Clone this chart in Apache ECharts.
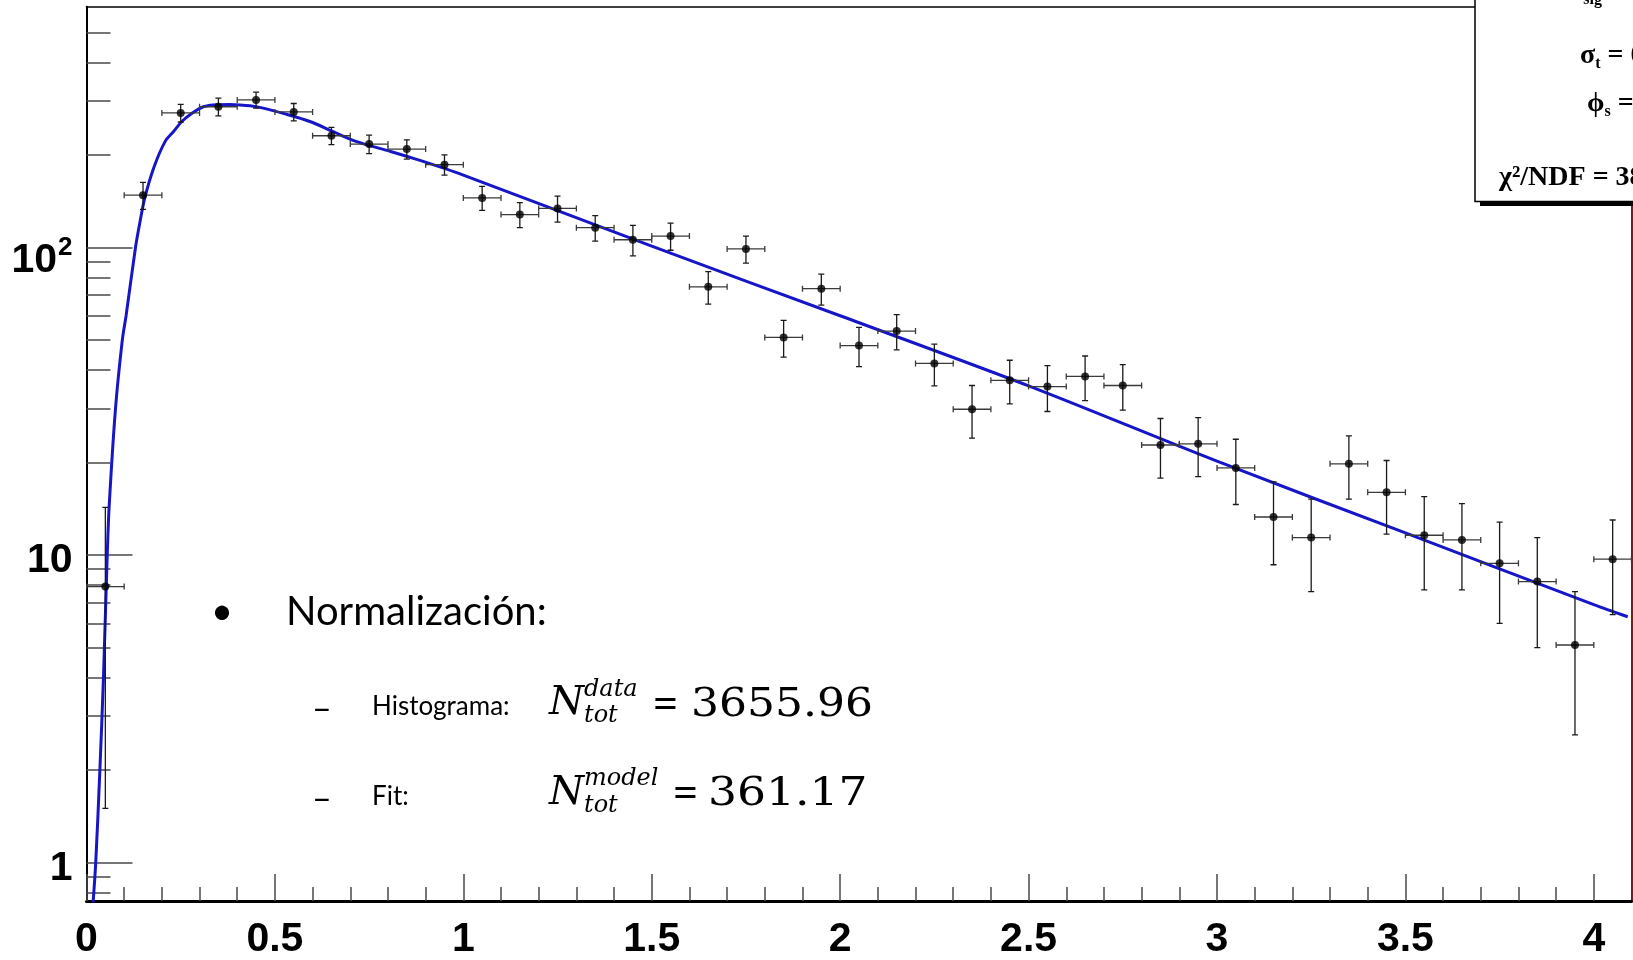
<!DOCTYPE html>
<html><head><meta charset="utf-8">
<script src="https://cdn.jsdelivr.net/npm/echarts@6/dist/echarts.min.js"></script>
<style>html,body{margin:0;padding:0;background:#fff;overflow:hidden}#c{width:1633px;height:960px}</style>
</head><body><div id="c"></div>
<script>
// ---- data ----
const binCenters = [0.05,0.15,0.25,0.35,0.45,0.55,0.65,0.75,0.85,0.95,1.05,1.15,1.25,1.35,1.45,1.55,1.65,1.75,1.85,1.95,2.05,2.15,2.25,2.35,2.45,2.55,2.65,2.75,2.85,2.95,3.05,3.15,3.25,3.35,3.45,3.55,3.65,3.75,3.85,3.95,4.05];
const counts = [7.9,148,274,287,302,276,231,217,209,186,145,128,134,116,106,109,74.5,99,51,73.5,48,53.5,42,29.8,37,35.3,38.1,35.6,22.8,23,19.2,13.3,11.4,19.8,16,11.6,11.2,9.4,8.2,5.1,9.7];
const countErrors = [6.4,15,18,19,18,18,15,15,15,14,13,12,13,11,12,11,9,10,7,8.5,7,7,6.5,5.8,6,6,6.3,6,5,5,4.6,4,3.8,4.6,4.3,3.9,3.5,3.4,3.2,2.5,3.3];
const binHalfWidth = 0.05;
const fitX = [0.016,0.0245,0.0355,0.045,0.055,0.060,0.077,0.095,0.105,0.130,0.141,0.155,0.179,0.2085,0.2305,0.253,0.279,0.31,0.346,0.38,0.407,0.434,0.469,0.522,0.593,0.655,0.717,0.797,0.885,1.0,1.5,2.0,2.5,3.0,3.5,4.0,4.09];
const fitY = [0.7,1.0,2.0,4.0,10,14.3,30,50,60,100,119.5,145.5,182.5,221,238,257,273,287,291.5,292,291,289,284,273,257,238,221,207,192,172,101,60,35.5,20.2,11.8,6.9,6.3];
const xMajorTicks = [0,0.5,1,1.5,2,2.5,3,3.5,4];
const xTickLabels = ['0','0.5','1','1.5','2','2.5','3','3.5','4'];
const xMinorTicks = [0.1,0.2,0.3,0.4,0.6,0.7,0.8,0.9,1.1,1.2,1.3,1.4,1.6,1.7,1.8,1.9,2.1,2.2,2.3,2.4,2.6,2.7,2.8,2.9,3.1,3.2,3.3,3.4,3.6,3.7,3.8,3.9];
const yMajorTicks = [1,10,100];
const yTickLabels = ['{b|1}','{b|10}','{c|10}{s|2}'];
const yMinorTicks = [0.8,0.9,2,3,4,5,6,7,8,9,20,30,40,50,60,70,80,90,200,300,400,500];

const X_MIN = 0, X_MAX = 4.1, Y_MIN = 0.75, Y_MAX = 607;
const chart = echarts.init(document.getElementById('c'), null, {renderer:'canvas'});
const tickGrey = '#4a4a4a';
const baseX = {type:'value', min:X_MIN, max:X_MAX, splitLine:{show:false}, minorTick:{show:false}};
const baseY = {type:'log', logBase:10, min:Y_MIN, max:Y_MAX, splitLine:{show:false}, minorTick:{show:false}};
const serifBold = {fontFamily:'Liberation Serif', fontWeight:'bold', color:'#000'};

const option = {
  animation:false,
  backgroundColor:'#ffffff',
  grid:{left:86.5, right:1.5, top:6.7, bottom:47.3, containLabel:false},
  xAxis:[
    Object.assign({}, baseX, {position:'bottom',
      axisLine:{show:true, onZero:false, lineStyle:{color:'#000', width:3}},
      axisTick:{show:true, inside:true, length:27, customValues:xMajorTicks, lineStyle:{color:tickGrey, width:1.5}},
      axisLabel:{show:true, customValues:xMajorTicks, margin:18, color:'#000', fontSize:41, fontWeight:'bold', fontFamily:'Liberation Sans',
        formatter:v=>{const i=xMajorTicks.findIndex(t=>Math.abs(t-v)<1e-9); return i>=0?xTickLabels[i]:'';}}}),
    Object.assign({}, baseX, {position:'bottom',
      axisLine:{show:false, onZero:false},
      axisTick:{show:true, inside:true, length:14, customValues:xMinorTicks, lineStyle:{color:tickGrey, width:1.5}},
      axisLabel:{show:false}}),
    Object.assign({}, baseX, {position:'top',
      axisLine:{show:true, onZero:false, lineStyle:{color:'#000', width:1.5}},
      axisTick:{show:false}, axisLabel:{show:false}})
  ],
  yAxis:[
    Object.assign({}, baseY, {position:'left',
      axisLine:{show:true, onZero:false, lineStyle:{color:'#000', width:2}},
      axisTick:{show:true, inside:true, length:46, customValues:yMajorTicks, lineStyle:{color:tickGrey, width:1.5}},
      axisLabel:{show:true, customValues:yMajorTicks, margin:14, color:'#000',
        formatter:v=>{const i=yMajorTicks.findIndex(t=>Math.abs(t-v)<1e-6*t); return i>=0?yTickLabels[i]:'';},
        rich:{
          b:{fontSize:41, lineHeight:41, padding:[12,0,0,0], fontWeight:'bold', fontFamily:'Liberation Sans', color:'#000'},
          c:{fontSize:41, lineHeight:41, padding:[27,0,0,0], fontWeight:'bold', fontFamily:'Liberation Sans', color:'#000'},
          s:{fontSize:26, lineHeight:26, padding:[0,0,0,1], fontWeight:'bold', fontFamily:'Liberation Sans', color:'#000'}
        }}}),
    Object.assign({}, baseY, {position:'left',
      axisLine:{show:false, onZero:false},
      axisTick:{show:true, inside:true, length:24, customValues:yMinorTicks, lineStyle:{color:tickGrey, width:1.5}},
      axisLabel:{show:false}}),
    Object.assign({}, baseY, {position:'right',
      axisLine:{show:true, onZero:false, lineStyle:{color:'#7a1a1a', width:2}},
      axisTick:{show:false}, axisLabel:{show:false}})
  ],
  series:[
    {type:'line', name:'fit', xAxisIndex:0, yAxisIndex:0, data:fitX.map((x,i)=>[x,fitY[i]]),
      showSymbol:false, smooth:0.3, clip:true, z:3,
      lineStyle:{color:'#1616c8', width:3}},
    {type:'custom', name:'errors', xAxisIndex:0, yAxisIndex:0, clip:true, z:4,
      data:binCenters.map((x,i)=>[x,counts[i],countErrors[i],binHalfWidth]),
      encode:{x:0,y:1},
      renderItem:(params, api)=>{
        const x=api.value(0), y=api.value(1), e=api.value(2), hw=api.value(3);
        const top=api.coord([x,y+e]), bot=api.coord([x,Math.max(y-e,1e-3)]);
        const l=api.coord([x-hw,y]), r=api.coord([x+hw,y]);
        const cap=3;
        const vs={stroke:'#1a1a1a', lineWidth:1.3}, hs={stroke:'#3a3a3a', lineWidth:1.3};
        return {type:'group', children:[
          {type:'line', shape:{x1:top[0],y1:top[1],x2:bot[0],y2:bot[1]}, style:vs},
          {type:'line', shape:{x1:top[0]-cap,y1:top[1],x2:top[0]+cap,y2:top[1]}, style:vs},
          {type:'line', shape:{x1:bot[0]-cap,y1:bot[1],x2:bot[0]+cap,y2:bot[1]}, style:vs},
          {type:'line', shape:{x1:l[0],y1:l[1],x2:r[0],y2:r[1]}, style:hs},
          {type:'line', shape:{x1:l[0],y1:l[1]-cap,x2:l[0],y2:l[1]+cap}, style:hs},
          {type:'line', shape:{x1:r[0],y1:r[1]-cap,x2:r[0],y2:r[1]+cap}, style:hs}
        ]};
      }},
    {type:'scatter', name:'data', xAxisIndex:0, yAxisIndex:0, z:5,
      data:binCenters.map((x,i)=>[x,counts[i]]), symbol:'circle', symbolSize:8,
      itemStyle:{color:'#000'}}
  ],
  graphic:[
    // statistics box (cut by the picture edge)
    {type:'rect', z:50, shape:{x:1480, y:-20, width:200, height:226}, style:{fill:'#000'}},
    {type:'rect', z:51, shape:{x:1475, y:-20, width:200, height:221.5}, style:{fill:'#fff', stroke:'#000', lineWidth:1.5}},
    {type:'text', z:52, style:{x:1563, y:-29, text:'{m|N}{s|sig}', fill:'#000',
      rich:{m:Object.assign({fontSize:28, lineHeight:28}, serifBold), s:Object.assign({fontSize:16, lineHeight:16, padding:[30,0,0,0]}, serifBold)}}},
    {type:'text', z:52, style:{x:1580, y:56, verticalAlign:'middle', text:'{m|σ}{s|t}{m| = 0}', fill:'#000',
      rich:{m:Object.assign({fontSize:28, lineHeight:28}, serifBold), s:Object.assign({fontSize:16, lineHeight:16, padding:[16,0,0,0]}, serifBold)}}},
    {type:'text', z:52, style:{x:1587, y:104, verticalAlign:'middle', text:'{m|ϕ}{s|s}{m| = }', fill:'#000',
      rich:{m:Object.assign({fontSize:28, lineHeight:28}, serifBold), s:Object.assign({fontSize:16, lineHeight:16, padding:[16,0,0,0]}, serifBold)}}},
    {type:'text', z:52, style:{x:1499, y:178, verticalAlign:'middle', text:'χ²/NDF = 38.', fill:'#000', fontSize:28, fontFamily:'Liberation Serif', fontWeight:'bold'}},
    // slide overlay text
    {type:'text', z:60, style:{x:222, y:612, align:'center', verticalAlign:'middle', text:'•', fill:'#000', fontSize:38, fontFamily:'Lato'}},
    {type:'text', z:60, style:{x:286, y:612, verticalAlign:'middle', text:'Normalización:', fill:'#000', fontSize:40, fontFamily:'Lato'}},
    {type:'text', z:60, style:{x:312, y:709, verticalAlign:'middle', text:'–', fill:'#000', fontSize:34, fontFamily:'Lato'}},
    {type:'text', z:60, style:{x:372, y:707, verticalAlign:'middle', text:'Histograma:', fill:'#000', fontSize:26, fontFamily:'Lato'}},
    {type:'text', z:60, style:{x:549, y:704, verticalAlign:'middle', text:'N', fill:'#000', fontSize:40, fontStyle:'italic', fontFamily:'DejaVu Serif'}},
    {type:'text', z:60, style:{x:584, y:690, verticalAlign:'middle', text:'data', fill:'#000', fontSize:24, fontStyle:'italic', fontFamily:'DejaVu Serif'}},
    {type:'text', z:60, style:{x:584, y:716, verticalAlign:'middle', text:'tot', fill:'#000', fontSize:24, fontStyle:'italic', fontFamily:'DejaVu Serif'}},
    {type:'text', z:60, x:652, y:706, scaleX:0.8, style:{x:0, y:0, verticalAlign:'middle', text:'=', fill:'#000', fontSize:40, fontFamily:'DejaVu Serif'}},
    {type:'text', z:60, x:691, y:706, scaleX:1.1, style:{x:0, y:0, verticalAlign:'middle', text:'3655.96', fill:'#000', fontSize:40, fontFamily:'DejaVu Serif'}},
    {type:'text', z:60, style:{x:312, y:799, verticalAlign:'middle', text:'–', fill:'#000', fontSize:34, fontFamily:'Lato'}},
    {type:'text', z:60, style:{x:372, y:797, verticalAlign:'middle', text:'Fit:', fill:'#000', fontSize:26, fontFamily:'Lato'}},
    {type:'text', z:60, style:{x:549, y:794, verticalAlign:'middle', text:'N', fill:'#000', fontSize:40, fontStyle:'italic', fontFamily:'DejaVu Serif'}},
    {type:'text', z:60, style:{x:584, y:779, verticalAlign:'middle', text:'model', fill:'#000', fontSize:24, fontStyle:'italic', fontFamily:'DejaVu Serif'}},
    {type:'text', z:60, style:{x:584, y:806, verticalAlign:'middle', text:'tot', fill:'#000', fontSize:24, fontStyle:'italic', fontFamily:'DejaVu Serif'}},
    {type:'text', z:60, x:672, y:795, scaleX:0.8, style:{x:0, y:0, verticalAlign:'middle', text:'=', fill:'#000', fontSize:40, fontFamily:'DejaVu Serif'}},
    {type:'text', z:60, x:708, y:795, scaleX:1.14, style:{x:0, y:0, verticalAlign:'middle', text:'361.17', fill:'#000', fontSize:40, fontFamily:'DejaVu Serif'}}
  ]
};
chart.setOption(option);
</script></body></html>
